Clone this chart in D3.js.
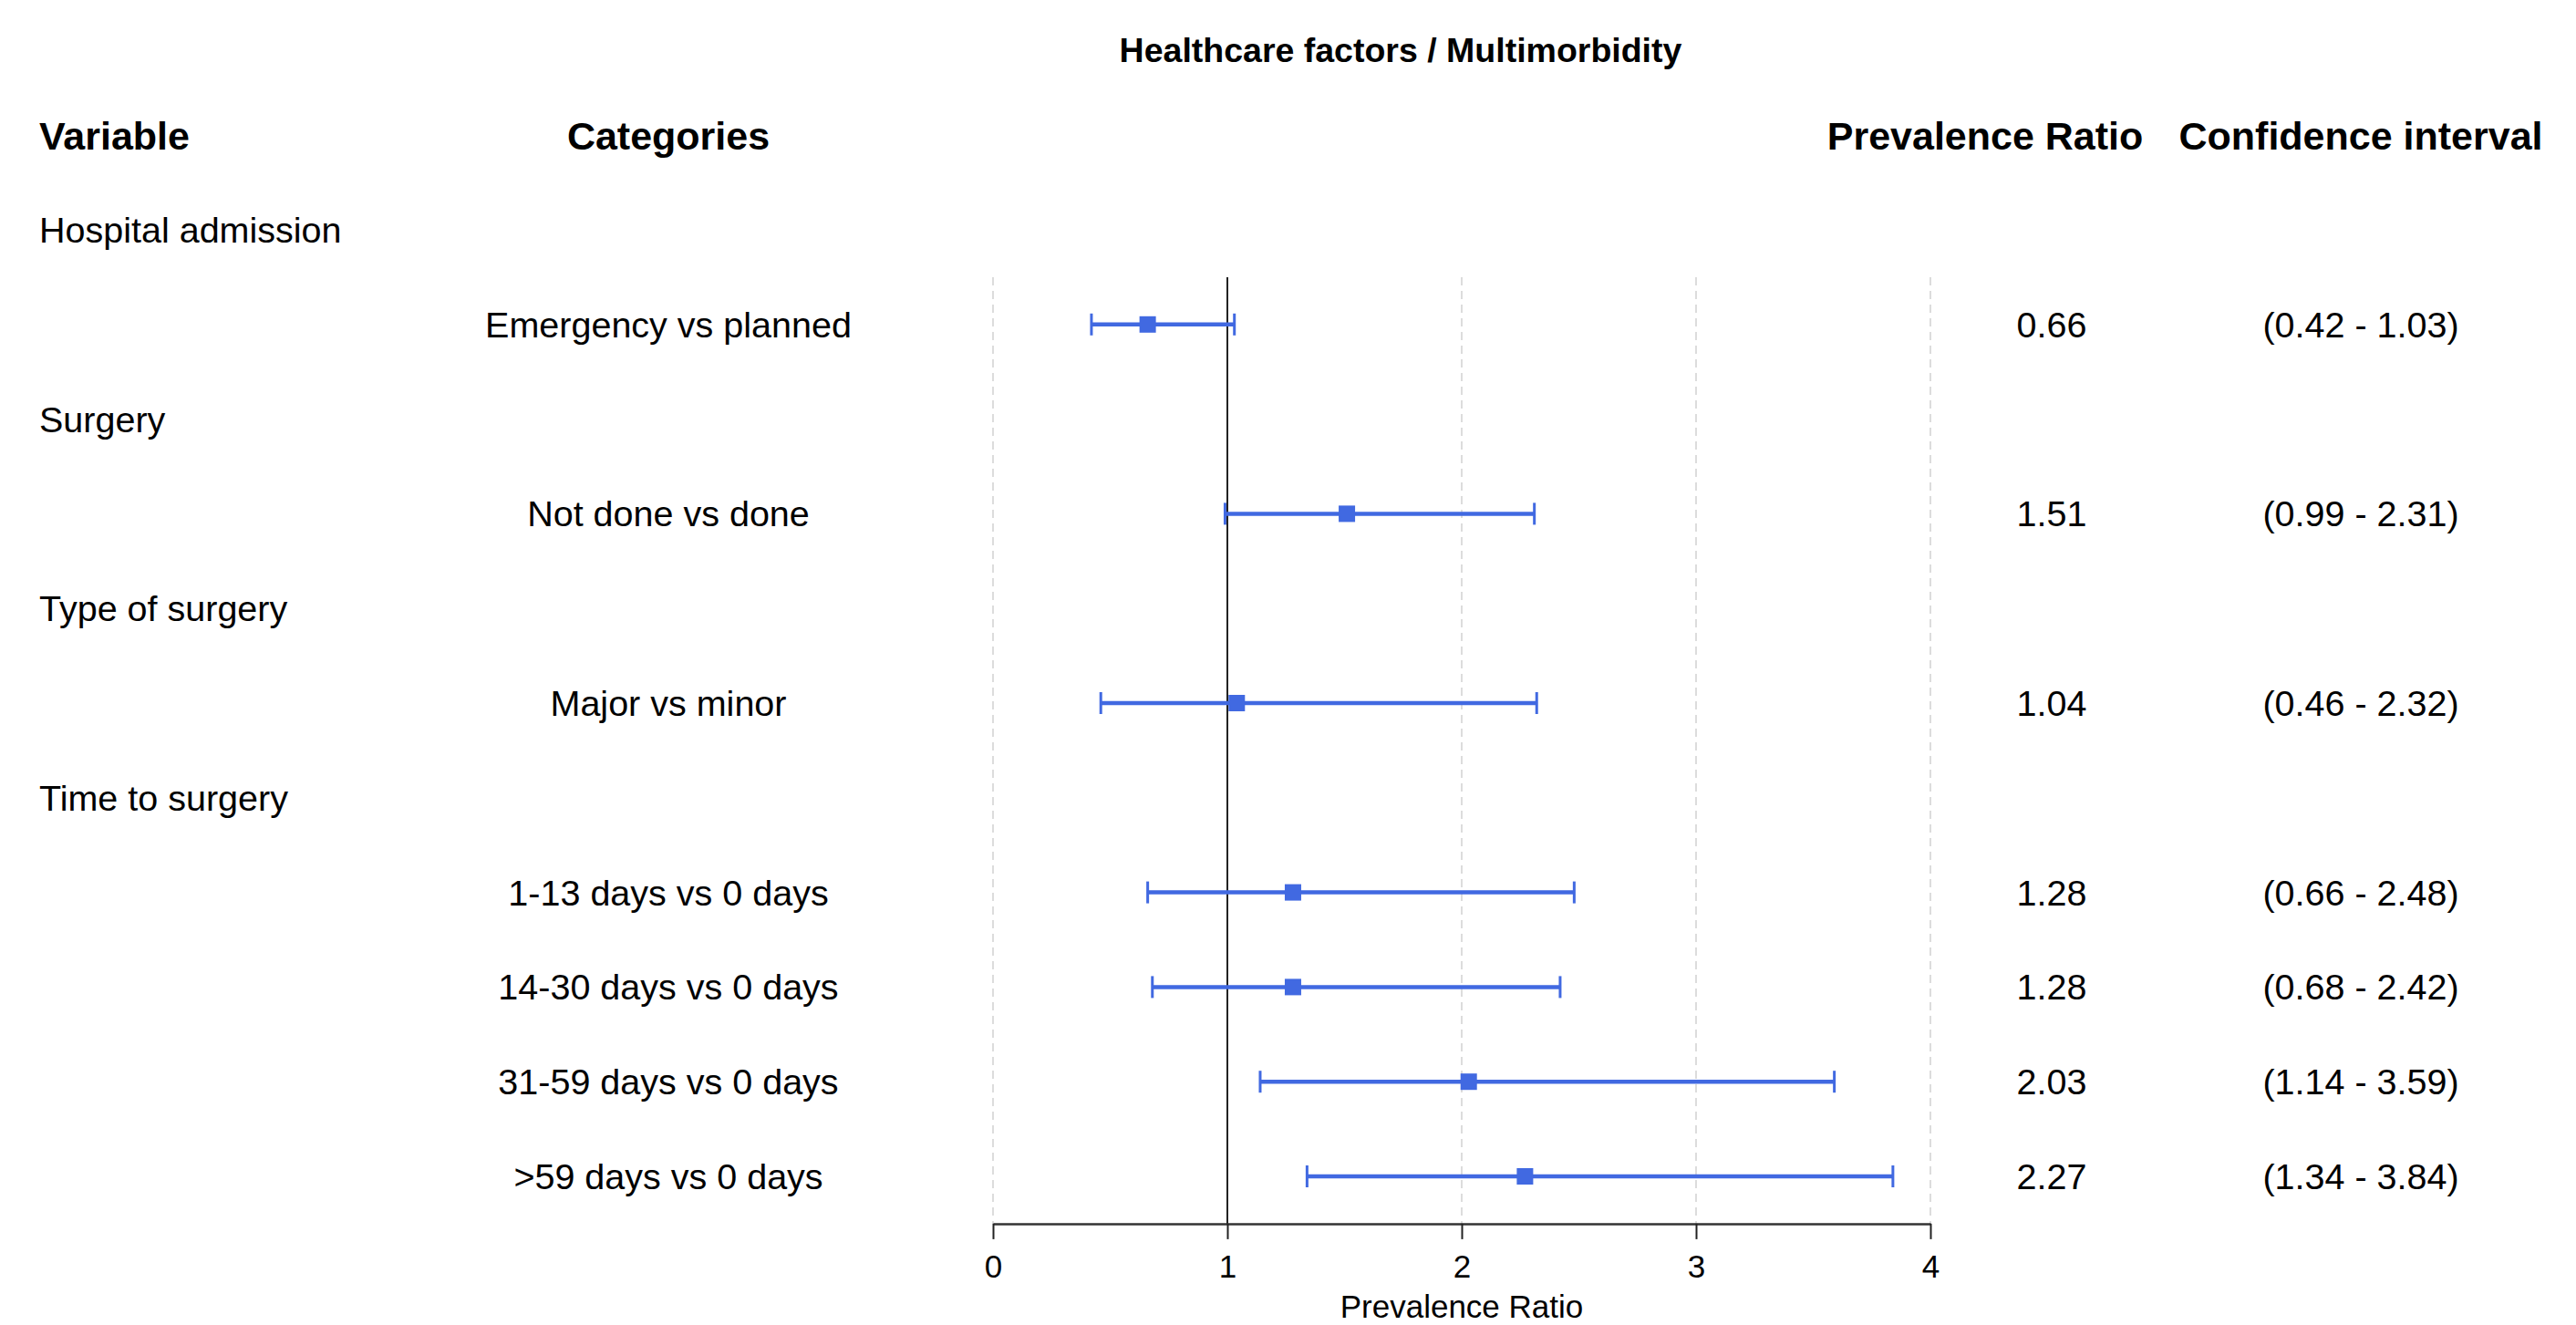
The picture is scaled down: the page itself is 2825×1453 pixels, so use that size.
<!DOCTYPE html>
<html>
<head>
<meta charset="utf-8">
<script src="https://cdn.jsdelivr.net/npm/d3@7"></script>
<style>
  body { margin: 0; background: #fff; }
  text { font-family: "Liberation Sans", Arial, Helvetica, sans-serif; fill: #000; }
  .axis text { font-size: 35px; }
  .axis line { stroke: #222; stroke-width: 2; }
  .axis path { stroke: #333; stroke-width: 2.5; }
</style>
</head>
<body>
<div id="chart"></div>
<script>
// Forest plot: healthcare factors / multimorbidity

var variables = ["Hospital admission", "Surgery", "Type of surgery", "Time to surgery"];
var categories = ["Emergency vs planned", "Not done vs done", "Major vs minor",
                  "1-13 days vs 0 days", "14-30 days vs 0 days", "31-59 days vs 0 days", ">59 days vs 0 days"];
var categoryGroup = [0, 1, 2, 3, 3, 3, 3];
var prValues = [0.66, 1.51, 1.04, 1.28, 1.28, 2.03, 2.27];
var ciLower = [0.42, 0.99, 0.46, 0.66, 0.68, 1.14, 1.34];
var ciUpper = [1.03, 2.31, 2.32, 2.48, 2.42, 3.59, 3.84];
var xTicks = [0, 1, 2, 3, 4];

var width = 2825;
var height = 1453;

var svg = d3.select('#chart')
  .append('svg')
  .attr('width', width)
  .attr('height', height);

// build the row list: one header row per variable, then its categories
var rows = [];
variables.forEach(function(v, gi) {
  rows.push({type: 'var', label: v});
  categories.forEach(function(c, ci) {
    if (categoryGroup[ci] === gi) {
      rows.push({type: 'cat', label: c, pr: prValues[ci], lo: ciLower[ci], hi: ciUpper[ci]});
    }
  });
});

var x_scale = d3.scaleLinear()
  .domain([0, 4])
  .range([1089, 2117]);

var y_scale = d3.scaleLinear()
  .domain([0, rows.length - 1])
  .range([252, 1290]);

var plotTop = y_scale(0.5);
var plotBottom = y_scale(rows.length - 0.5);

// title
svg.append('text')
  .attr('x', 1536)
  .attr('y', 68)
  .style('text-anchor', 'middle')
  .style('font-weight', 'bold')
  .style('font-size', '37.5px')
  .text('Healthcare factors / Multimorbidity');

// column headers
var headers = [
  {t: 'Variable', x: 43, anchor: 'start'},
  {t: 'Categories', x: 733, anchor: 'middle'},
  {t: 'Prevalence Ratio', x: 2177, anchor: 'middle'},
  {t: 'Confidence interval', x: 2589, anchor: 'middle'}
];
svg.selectAll('.header')
  .data(headers)
  .enter()
  .append('text')
  .attr('class', 'header')
  .attr('x', function(d) { return d.x; })
  .attr('y', 164)
  .style('text-anchor', function(d) { return d.anchor; })
  .style('font-weight', 'bold')
  .style('font-size', '43px')
  .text(function(d) { return d.t; });

// dashed grid lines
svg.selectAll('.grid')
  .data(xTicks)
  .enter()
  .append('line')
  .attr('class', 'grid')
  .attr('x1', function(d) { return x_scale(d); })
  .attr('x2', function(d) { return x_scale(d); })
  .attr('y1', plotTop)
  .attr('y2', plotBottom)
  .style('stroke', '#dcdcdc')
  .style('stroke-width', 2)
  .style('stroke-dasharray', '9,6');

// reference line at 1
svg.append('line')
  .attr('x1', x_scale(1))
  .attr('x2', x_scale(1))
  .attr('y1', plotTop)
  .attr('y2', plotBottom)
  .style('stroke', '#222')
  .style('stroke-width', 2);

// x axis
var xAxis = d3.axisBottom(x_scale)
  .tickValues(xTicks)
  .tickFormat(d3.format('d'))
  .tickSize(17)
  .tickSizeOuter(0)
  .tickPadding(17);

svg.append('g')
  .attr('class', 'axis')
  .attr('transform', 'translate(0,' + plotBottom + ')')
  .call(xAxis);

svg.append('text')
  .attr('x', (x_scale(0) + x_scale(4)) / 2)
  .attr('y', 1445)
  .style('text-anchor', 'middle')
  .style('font-size', '35px')
  .text('Prevalence Ratio');

// row labels
var rowG = svg.selectAll('.row')
  .data(rows)
  .enter()
  .append('g')
  .attr('class', 'row')
  .attr('transform', function(d, i) { return 'translate(0,' + y_scale(i) + ')'; });

rowG.append('text')
  .attr('x', function(d) { return d.type === 'var' ? 43 : 733; })
  .attr('y', 14)
  .style('text-anchor', function(d) { return d.type === 'var' ? 'start' : 'middle'; })
  .style('font-size', '39.5px')
  .text(function(d) { return d.label; });

var catRows = rowG.filter(function(d) { return d.type === 'cat'; });

catRows.append('text')
  .attr('x', 2250)
  .attr('y', 14)
  .style('text-anchor', 'middle')
  .style('font-size', '39.5px')
  .text(function(d) { return d.pr.toFixed(2); });

catRows.append('text')
  .attr('x', 2589)
  .attr('y', 14)
  .style('text-anchor', 'middle')
  .style('font-size', '39.5px')
  .text(function(d) { return '(' + d.lo.toFixed(2) + ' - ' + d.hi.toFixed(2) + ')'; });

// confidence intervals
var blue = '#4169e1';
catRows.append('line')
  .attr('x1', function(d) { return x_scale(d.lo); })
  .attr('x2', function(d) { return x_scale(d.hi); })
  .attr('y1', 0)
  .attr('y2', 0)
  .style('stroke', blue)
  .style('stroke-width', 4.5);

catRows.selectAll('.cap')
  .data(function(d) { return [d.lo, d.hi]; })
  .enter()
  .append('line')
  .attr('class', 'cap')
  .attr('x1', function(v) { return x_scale(v); })
  .attr('x2', function(v) { return x_scale(v); })
  .attr('y1', -12)
  .attr('y2', 12)
  .style('stroke', blue)
  .style('stroke-width', 3);

catRows.append('rect')
  .attr('x', function(d) { return x_scale(d.pr) - 9; })
  .attr('y', -9)
  .attr('width', 18)
  .attr('height', 18)
  .style('fill', blue);
</script>
</body>
</html>
